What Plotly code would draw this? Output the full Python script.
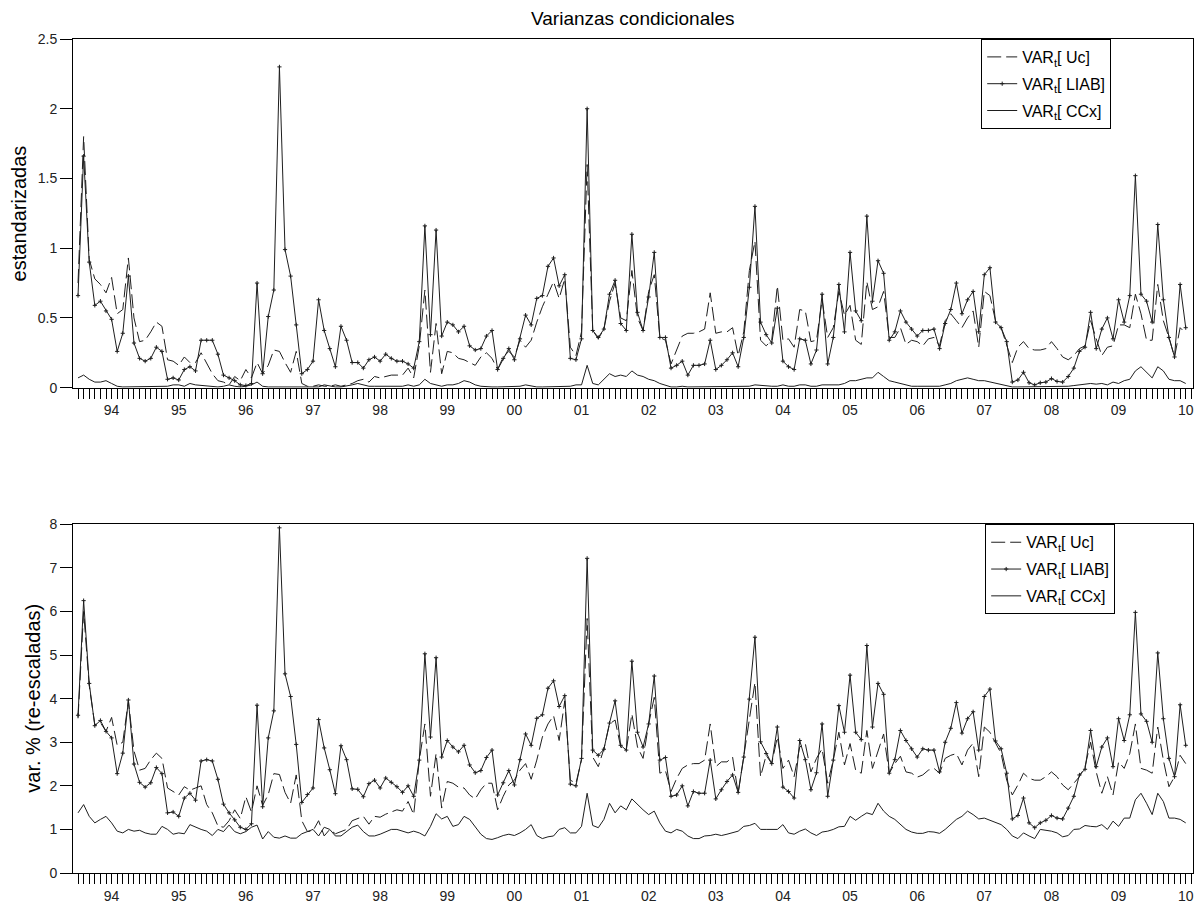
import plotly.graph_objects as go

# Monthly observations: Jul 1993 .. Jan 2010
start_year, start_month = 1993, 7
year_labels = ["94", "95", "96", "97", "98", "99", "00", "01", "02", "03",
               "04", "05", "06", "07", "08", "09", "10"]

liab_top = [0.66, 1.66, 0.90, 0.59, 0.62, 0.55, 0.49, 0.26, 0.39, 0.80,
            0.32, 0.21, 0.19, 0.21, 0.29, 0.26, 0.06, 0.07, 0.055, 0.13,
            0.15, 0.12, 0.34, 0.34, 0.34, 0.24, 0.09, 0.07, 0.05, 0.02,
            0.015, 0.03, 0.75, 0.10, 0.51, 0.70, 2.30, 0.99, 0.80, 0.45,
            0.10, 0.13, 0.19, 0.63, 0.41, 0.28, 0.15, 0.44, 0.34, 0.18,
            0.18, 0.14, 0.20, 0.22, 0.19, 0.24, 0.21, 0.19, 0.19, 0.17,
            0.14, 0.33, 1.16, 0.38, 1.13, 0.37, 0.47, 0.45, 0.40, 0.44,
            0.30, 0.27, 0.28, 0.37, 0.41, 0.13, 0.21, 0.28, 0.20, 0.35,
            0.52, 0.45, 0.64, 0.66, 0.87, 0.93, 0.73, 0.81, 0.21, 0.20,
            0.35, 2.00, 0.41, 0.36, 0.42, 0.67, 0.77, 0.46, 0.41, 1.10,
            0.54, 0.41, 0.65, 0.97, 0.36, 0.36, 0.14, 0.16, 0.19, 0.09,
            0.16, 0.16, 0.17, 0.34, 0.13, 0.16, 0.20, 0.25, 0.15, 0.36,
            0.72, 1.30, 0.47, 0.38, 0.32, 0.57, 0.19, 0.15, 0.13, 0.35,
            0.34, 0.17, 0.27, 0.67, 0.17, 0.36, 0.74, 0.40, 0.97, 0.55,
            0.48, 1.23, 0.62, 0.91, 0.82, 0.34, 0.40, 0.55, 0.47, 0.42,
            0.37, 0.41, 0.41, 0.42, 0.28, 0.46, 0.56, 0.75, 0.53, 0.63,
            0.69, 0.40, 0.81, 0.86, 0.47, 0.43, 0.33, 0.04, 0.055, 0.11,
            0.035, 0.02, 0.035, 0.04, 0.065, 0.045, 0.04, 0.08, 0.14, 0.26,
            0.29, 0.54, 0.28, 0.42, 0.50, 0.35, 0.63, 0.47, 0.66, 1.52,
            0.67, 0.62, 0.47, 1.17, 0.63, 0.36, 0.22, 0.74, 0.43]

uc_top = [0.75, 1.80, 0.92, 0.78, 0.74, 0.68, 0.79, 0.53, 0.56, 0.93,
          0.50, 0.33, 0.34, 0.40, 0.47, 0.44, 0.20, 0.19, 0.16, 0.22,
          0.18, 0.18, 0.25, 0.17, 0.10, 0.05, 0.04, 0.02, 0.08, 0.05,
          0.13, 0.07, 0.18, 0.10, 0.16, 0.27, 0.26, 0.18, 0.11, 0.26,
          0.03, 0.01, 0.01, 0.02, 0.01, 0.01, 0.02, 0.01, 0.02, 0.03,
          0.05, 0.06, 0.04, 0.08, 0.07, 0.08, 0.09, 0.09, 0.09, 0.14,
          0.07, 0.30, 0.70, 0.11, 0.46, 0.10, 0.26, 0.25, 0.21, 0.20,
          0.18, 0.16, 0.22, 0.25, 0.21, 0.13, 0.22, 0.26, 0.22, 0.34,
          0.29, 0.34, 0.47, 0.58, 0.67, 0.76, 0.64, 0.78, 0.29, 0.23,
          0.40, 1.60, 0.41, 0.35, 0.42, 0.62, 0.75, 0.50, 0.48, 0.84,
          0.50, 0.41, 0.69, 0.81, 0.36, 0.34, 0.17, 0.27, 0.37, 0.39,
          0.39, 0.40, 0.42, 0.68, 0.39, 0.40, 0.40, 0.43, 0.23, 0.40,
          0.84, 1.05, 0.34, 0.30, 0.34, 0.73, 0.34, 0.35, 0.29, 0.56,
          0.55, 0.33, 0.34, 0.63, 0.36, 0.43, 0.69, 0.52, 0.59, 0.34,
          0.31, 0.76, 0.56, 0.58, 0.69, 0.36, 0.36, 0.43, 0.31, 0.34,
          0.33, 0.30, 0.35, 0.36, 0.30, 0.48, 0.53, 0.48, 0.43, 0.50,
          0.55, 0.29, 0.69, 0.66, 0.48, 0.43, 0.31, 0.18, 0.29, 0.33,
          0.28, 0.27, 0.27, 0.28, 0.33, 0.28, 0.22, 0.20, 0.23, 0.28,
          0.30, 0.48, 0.35, 0.23, 0.29, 0.30, 0.45, 0.45, 0.43, 0.67,
          0.53, 0.34, 0.34, 0.74, 0.48, 0.36, 0.22, 0.43, 0.39]

ccx_top = [0.07, 0.09, 0.06, 0.04, 0.04, 0.05, 0.03, 0.01, 0.005, 0.005,
           0.01, 0.01, 0.01, 0.01, 0.005, 0.005, 0.01, 0.02, 0.02, 0.01,
           0.03, 0.02, 0.015, 0.01, 0.005, 0.005, 0.01, 0.02, 0.01, 0.005,
           0.01, 0.02, 0.04, 0.01, 0.005, 0.005, 0.005, 0.005, 0.005, 0.005,
           0.005, 0.005, 0.01, 0.005, 0.02, 0.01, 0.005, 0.005, 0.01, 0.02,
           0.03, 0.02, 0.01, 0.01, 0.01, 0.01, 0.01, 0.01, 0.01, 0.02,
           0.01, 0.02, 0.06, 0.03, 0.02, 0.01, 0.02, 0.02, 0.03, 0.05,
           0.04, 0.02, 0.01, 0.005, 0.005, 0.005, 0.005, 0.01, 0.01, 0.01,
           0.02, 0.01, 0.005, 0.005, 0.005, 0.005, 0.01, 0.01, 0.01, 0.02,
           0.02, 0.16, 0.03, 0.02, 0.06, 0.10, 0.08, 0.09, 0.08, 0.12,
           0.09, 0.08, 0.06, 0.05, 0.03, 0.015, 0.005, 0.005, 0.01, 0.005,
           0.005, 0.005, 0.005, 0.005, 0.005, 0.005, 0.01, 0.01, 0.01, 0.01,
           0.01, 0.02, 0.015, 0.01, 0.01, 0.01, 0.02, 0.01, 0.01, 0.02,
           0.02, 0.01, 0.01, 0.02, 0.02, 0.02, 0.02, 0.03, 0.05, 0.05,
           0.06, 0.07, 0.07, 0.11, 0.08, 0.05, 0.04, 0.03, 0.02, 0.01,
           0.01, 0.01, 0.01, 0.01, 0.01, 0.02, 0.03, 0.05, 0.06, 0.07,
           0.06, 0.05, 0.05, 0.04, 0.03, 0.02, 0.01, 0.005, 0.005, 0.005,
           0.005, 0.005, 0.005, 0.01, 0.005, 0.005, 0.005, 0.01, 0.015, 0.02,
           0.02, 0.03, 0.025, 0.03, 0.02, 0.04, 0.03, 0.05, 0.06, 0.12,
           0.15, 0.11, 0.07, 0.15, 0.12, 0.06, 0.05, 0.05, 0.03]

liab_bot = [3.62, 6.25, 4.35, 3.38, 3.50, 3.25, 3.10, 2.28, 2.75, 3.97,
            2.50, 2.08, 1.97, 2.07, 2.42, 2.28, 1.38, 1.40, 1.30, 1.72,
            1.83, 1.67, 2.57, 2.60, 2.57, 2.15, 1.58, 1.38, 1.22, 1.05,
            1.00, 1.13, 3.85, 1.52, 3.10, 3.72, 7.92, 4.57, 4.05, 2.95,
            1.62, 1.80, 1.95, 3.52, 2.87, 2.37, 1.82, 2.92, 2.60, 1.93,
            1.92, 1.75, 2.05, 2.13, 1.95, 2.18, 2.08, 1.98, 1.85, 2.00,
            1.76, 2.59, 5.03, 3.12, 4.94, 2.66, 3.04, 2.89, 2.78, 2.93,
            2.48, 2.30, 2.35, 2.65, 2.82, 1.79, 2.07, 2.35, 2.02, 2.60,
            3.19, 2.93, 3.55, 3.63, 4.24, 4.41, 3.82, 4.07, 2.04, 2.00,
            2.63, 7.22, 2.82, 2.70, 2.84, 3.44, 3.95, 2.93, 2.82, 4.86,
            3.23, 2.89, 3.42, 4.52, 2.59, 2.65, 1.76, 1.79, 2.00, 1.54,
            1.87, 1.83, 1.83, 2.59, 1.70, 1.91, 2.10, 2.25, 1.85, 2.66,
            3.99, 5.41, 3.01, 2.74, 2.51, 3.35, 1.97, 1.87, 1.72, 3.04,
            2.60, 1.91, 2.30, 3.42, 1.76, 2.59, 3.84, 3.23, 4.54, 3.23,
            3.06, 5.22, 3.35, 4.35, 4.10, 2.29, 2.60, 3.27, 3.04, 2.85,
            2.66, 2.85, 2.82, 2.82, 2.32, 3.00, 3.32, 3.91, 3.21, 3.54,
            3.70, 2.82, 4.05, 4.22, 3.03, 2.85, 2.29, 1.24, 1.32, 1.72,
            1.15, 1.04, 1.15, 1.21, 1.32, 1.26, 1.24, 1.49, 1.76, 2.25,
            2.38, 3.27, 2.44, 2.89, 3.10, 2.44, 3.54, 3.04, 3.63, 5.98,
            3.65, 3.48, 3.00, 5.05, 3.54, 2.63, 2.21, 3.86, 2.93]

uc_bot = [3.55, 6.00, 4.30, 3.40, 3.45, 3.25, 3.57, 2.93, 3.00, 3.95,
          2.80, 2.36, 2.40, 2.60, 2.75, 2.63, 1.95, 1.87, 1.79, 1.98,
          1.90, 1.95, 2.00, 1.57, 1.38, 1.08, 1.05, 1.20, 1.45, 1.25,
          1.75, 1.40, 2.00, 1.55, 1.80, 2.28, 2.26, 1.85, 1.60, 2.25,
          1.20, 0.95, 0.97, 1.20, 0.85, 1.00, 0.90, 0.95, 1.00, 1.20,
          1.25, 1.30, 1.12, 1.30, 1.28, 1.35, 1.40, 1.45, 1.42, 1.64,
          1.34, 2.59, 3.42, 1.76, 2.74, 1.49, 2.10, 2.06, 1.97, 1.95,
          1.79, 1.70, 1.91, 2.06, 2.06, 1.45, 1.76, 2.02, 2.13, 2.36,
          2.51, 2.15, 2.59, 3.12, 3.42, 3.61, 3.04, 3.95, 2.13, 2.06,
          2.59, 5.84, 2.66, 2.44, 2.85, 3.42, 3.51, 2.89, 2.82, 3.65,
          2.89, 2.63, 3.42, 4.03, 2.29, 2.35, 1.87, 2.17, 2.40, 2.48,
          2.51, 2.51, 2.59, 3.42, 2.44, 2.55, 2.55, 2.66, 1.83, 2.66,
          3.57, 4.37, 2.21, 2.70, 2.51, 3.12, 2.40, 2.59, 2.21, 2.89,
          2.97, 2.32, 2.63, 2.85, 2.06, 2.59, 3.23, 2.48, 2.97, 2.36,
          2.29, 3.27, 2.40, 2.82, 3.19, 2.29, 2.51, 2.68, 2.32, 2.29,
          2.20, 2.25, 2.36, 2.40, 2.29, 2.63, 2.70, 2.74, 2.48, 2.82,
          2.98, 2.21, 3.35, 3.23, 2.97, 2.74, 2.13, 1.79, 2.02, 2.29,
          2.17, 2.13, 2.13, 2.21, 2.32, 2.21, 2.02, 1.91, 2.06, 2.21,
          2.44, 3.00, 2.32, 1.83, 2.21, 1.79, 2.55, 2.40, 2.74, 3.42,
          2.40, 2.36, 2.29, 3.35, 2.59, 1.98, 2.21, 2.70, 2.51]

ccx_bot = [1.38, 1.57, 1.30, 1.15, 1.23, 1.30, 1.15, 0.96, 0.92, 1.00,
           0.96, 0.98, 0.92, 0.89, 0.89, 1.07, 1.00, 0.89, 0.92, 0.90,
           1.11, 1.05, 1.00, 0.96, 0.86, 1.00, 0.95, 1.10, 0.95, 0.90,
           0.95, 1.05, 1.10, 0.78, 0.95, 0.82, 0.80, 0.85, 0.80, 0.80,
           0.90, 0.95, 1.00, 0.85, 1.05, 1.00, 0.85, 0.85, 0.95, 1.05,
           1.10, 0.95, 0.85, 0.85, 0.89, 0.94, 1.00, 1.00, 0.96, 0.92,
           0.96, 0.92, 0.85, 1.07, 1.36, 1.24, 1.30, 1.07, 1.11, 1.30,
           1.23, 1.07, 0.89, 0.79, 0.77, 0.81, 0.86, 0.89, 0.86, 0.92,
           1.00, 1.11, 0.86, 0.79, 0.83, 0.85, 1.00, 1.04, 0.92, 0.92,
           1.07, 1.83, 1.09, 1.04, 1.23, 1.60, 1.38, 1.54, 1.45, 1.70,
           1.57, 1.45, 1.34, 1.42, 1.15, 0.96, 0.92, 1.00, 0.96, 0.85,
           0.79, 0.79, 0.85, 0.86, 0.89, 0.86, 0.89, 0.92, 0.96, 1.07,
           1.09, 1.14, 1.00, 1.00, 1.00, 1.00, 1.11, 0.92, 0.89, 0.96,
           1.01, 0.92, 0.86, 0.94, 0.96, 1.00, 1.06, 1.07, 1.30, 1.21,
           1.30, 1.38, 1.34, 1.60, 1.42, 1.30, 1.23, 1.11, 1.00, 0.94,
           0.91, 0.91, 0.95, 0.94, 0.91, 1.00, 1.11, 1.23, 1.30, 1.42,
           1.34, 1.24, 1.26, 1.21, 1.17, 1.11, 1.00, 0.85, 0.79, 0.92,
           0.85, 0.79, 1.00, 0.98, 0.96, 0.92, 0.83, 0.86, 1.00, 1.01,
           1.09, 1.07, 1.06, 1.11, 1.00, 1.19, 1.07, 1.26, 1.26, 1.68,
           1.83, 1.60, 1.34, 1.83, 1.64, 1.26, 1.26, 1.23, 1.15]

n = len(liab_top)
x = list(range(n))
# January positions of each labelled year
jan_pos = [(12 - start_month + 1) + 12 * k for k in range(len(year_labels))]

FONT = "Liberation Sans, Arial, sans-serif"
LINE = "#1e1e1e"

fig = go.Figure()

def add_set(uc, liab, ccx, xa, ya, legend):
    fig.add_trace(go.Scatter(x=x, y=uc, mode="lines", name="VAR<sub>t</sub>[ Uc]",
                             line=dict(color=LINE, width=1, dash="14px,5px"),
                             xaxis=xa, yaxis=ya, legend=legend, legendgroup=legend + "a"))
    fig.add_trace(go.Scatter(x=x, y=liab, mode="lines+markers", name="VAR<sub>t</sub>[ LIAB]",
                             line=dict(color=LINE, width=1),
                             marker=dict(symbol="cross-thin", size=3,
                                         line=dict(width=1, color=LINE), color=LINE),
                             xaxis=xa, yaxis=ya, legend=legend, legendgroup=legend + "b"))
    fig.add_trace(go.Scatter(x=x, y=ccx, mode="lines", name="VAR<sub>t</sub>[ CCx]",
                             line=dict(color=LINE, width=1),
                             xaxis=xa, yaxis=ya, legend=legend, legendgroup=legend + "c"))

add_set(uc_top, liab_top, ccx_top, "x", "y", "legend")
add_set(uc_bot, liab_bot, ccx_bot, "x2", "y2", "legend2")

xcommon = dict(range=[-0.9, 199.3], tickmode="array", tickvals=jan_pos, ticktext=year_labels,
               ticks="outside", ticklen=10, tickwidth=1, tickcolor="black",
               minor=dict(tickmode="linear", tick0=0, dtick=1, ticks="outside", ticklen=10,
                          tickwidth=1, tickcolor="black"),
               showline=True, linecolor="black", linewidth=1, mirror=True,
               showgrid=False, zeroline=False,
               tickfont=dict(family=FONT, size=14, color="#222"))
ycommon = dict(ticks="outside", ticklen=12, tickwidth=1, tickcolor="black",
               showline=True, linecolor="black", linewidth=1, mirror=True,
               showgrid=False, zeroline=False,
               tickfont=dict(family=FONT, size=14, color="#222"))

H = 913 - 39 - 32
fig.update_layout(
    width=1203, height=913,
    margin=dict(l=73, r=9, t=39, b=32),
    paper_bgcolor="white", plot_bgcolor="white",
    showlegend=True,
    xaxis=dict(domain=[0, 1], anchor="y", **xcommon),
    yaxis=dict(domain=[(881 - 391) / H, 1.0], anchor="x", range=[0, 2.5],
               tickvals=[0, 0.5, 1, 1.5, 2, 2.5], ticktext=["0", "0.5", "1", "1.5", "2", "2.5"],
               **ycommon),
    xaxis2=dict(domain=[0, 1], anchor="y2", **xcommon),
    yaxis2=dict(domain=[0, (881 - 529) / H], anchor="x2", range=[0, 8],
                tickvals=list(range(9)), ticktext=[str(v) for v in range(9)], **ycommon),
    legend=dict(x=(982 - 73) / 1121, y=1.0, xanchor="left", yanchor="top",
                bgcolor="white", bordercolor="black", borderwidth=1,
                font=dict(family=FONT, size=16, color="black"),
                traceorder="grouped", tracegroupgap=3),
    legend2=dict(x=(986 - 73) / 1121, y=(881 - 529) / H, xanchor="left", yanchor="top",
                 bgcolor="white", bordercolor="black", borderwidth=1,
                 font=dict(family=FONT, size=16, color="black"),
                 traceorder="grouped", tracegroupgap=3),
    annotations=[
        dict(text="Varianzas condicionales", xref="paper", yref="paper",
             x=0.5, y=(881 - 18) / H, xanchor="center", yanchor="middle", showarrow=False,
             font=dict(family=FONT, size=19, color="black")),
        dict(text="estandarizadas", xref="paper", yref="paper",
             x=(19 - 73) / 1121, y=(881 - 215) / H, xanchor="center", yanchor="middle",
             textangle=-90, showarrow=False, font=dict(family=FONT, size=20, color="black")),
        dict(text="var. % (re-escaladas)", xref="paper", yref="paper",
             x=(33 - 73) / 1121, y=(881 - 705) / H, xanchor="center", yanchor="middle",
             textangle=-90, showarrow=False, font=dict(family=FONT, size=20, color="black")),
    ],
)

fig.write_html("out.html")
